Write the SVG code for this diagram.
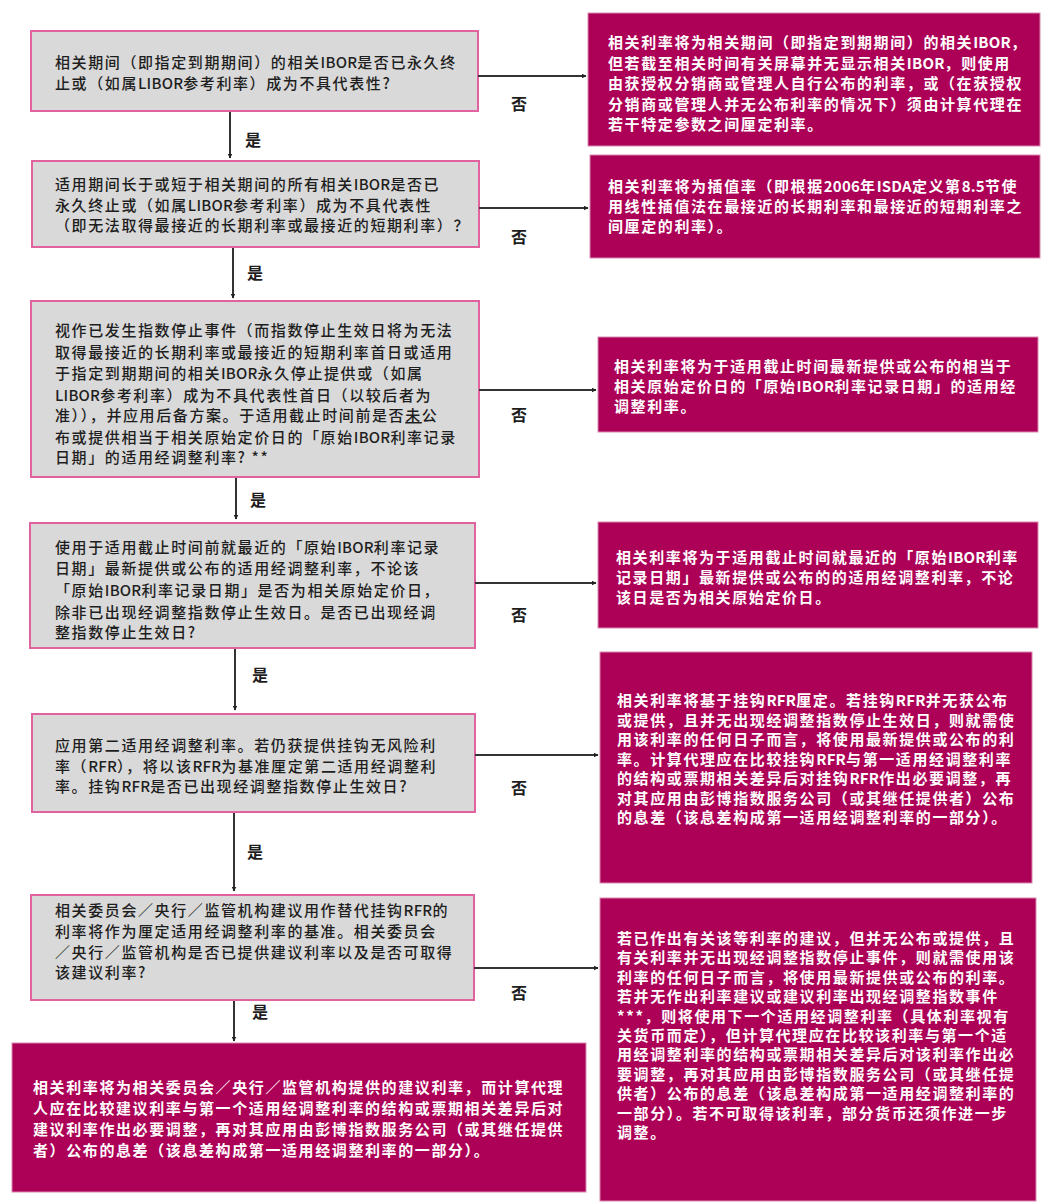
<svg xmlns="http://www.w3.org/2000/svg" width="1062" height="1203" viewBox="0 0 1062 1203">
<defs>
<marker id="ah" viewBox="0 0 10 10" refX="9" refY="5" markerWidth="5" markerHeight="5" orient="auto" markerUnits="userSpaceOnUse">
<path d="M0,0 L10,5 L0,10 z" fill="#222"/>
</marker>
<style>
.q{fill:#d9d9d9;stroke:#e0629f;stroke-width:2}
.r{fill:#ad0057;stroke:#d98ab2;stroke-width:1}
.lt{font-family:"Noto Sans CJK SC","Noto Sans CJK TC",sans-serif;font-size:15px;letter-spacing:1.6px;fill:#1e1e1e;font-weight:500}
.rt{font-family:"Noto Sans CJK SC","Noto Sans CJK TC",sans-serif;font-size:15px;letter-spacing:1.6px;fill:#ffffff;font-weight:700}
.la{letter-spacing:0.2px}
.lb{font-family:"Noto Sans CJK SC","Noto Sans CJK TC",sans-serif;font-size:16px;fill:#1e1e1e;font-weight:700}
.c{stroke:#333;stroke-width:2;fill:none;marker-end:url(#ah)}
</style>
</defs>
<rect width="1062" height="1203" fill="#ffffff"/>

<g id="q1">
<rect class="q" x="31" y="31" width="447" height="80"/>
<text class="lt" x="55" y="68">相关期间（即指定到期期间）的相关<tspan class="la">IBOR</tspan>是否已永久终</text>
<text class="lt" x="55" y="89">止或（如属<tspan class="la">LIBOR</tspan>参考利率）成为不具代表性?</text>
</g>

<g id="q2">
<rect class="q" x="32" y="161" width="447" height="86"/>
<text class="lt" x="55" y="190">适用期间长于或短于相关期间的所有相关<tspan class="la">IBOR</tspan>是否已</text>
<text class="lt" x="55" y="211">永久终止或（如属<tspan class="la">LIBOR</tspan>参考利率）成为不具代表性</text>
<text class="lt" x="55" y="231">（即无法取得最接近的长期利率或最接近的短期利率）？</text>
</g>

<g id="q3">
<rect class="q" x="31" y="301" width="448" height="176"/>
<text class="lt" x="55" y="336">视作已发生指数停止事件（而指数停止生效日将为无法</text>
<text class="lt" x="55" y="358">取得最接近的长期利率或最接近的短期利率首日或适用</text>
<text class="lt" x="55" y="379">于指定到期期间的相关<tspan class="la">IBOR</tspan>永久停止提供或（如属</text>
<text class="lt" x="55" y="401"><tspan class="la">LIBOR</tspan>参考利率）成为不具代表性首日（以较后者为</text>
<text class="lt" x="55" y="421">准）），并应用后备方案。于适用截止时间前是否<tspan text-decoration="underline">未</tspan>公</text>
<text class="lt" x="55" y="443">布或提供相当于相关原始定价日的「原始<tspan class="la">IBOR</tspan>利率记录</text>
<text class="lt" x="55" y="463">日期」的适用经调整利率? **</text>
</g>

<g id="q4">
<rect class="q" x="30" y="523" width="445" height="125"/>
<text class="lt" x="55" y="553">使用于适用截止时间前就最近的「原始<tspan class="la">IBOR</tspan>利率记录</text>
<text class="lt" x="55" y="574">日期」最新提供或公布的适用经调整利率，不论该</text>
<text class="lt" x="55" y="596">「原始<tspan class="la">IBOR</tspan>利率记录日期」是否为相关原始定价日，</text>
<text class="lt" x="55" y="618">除非已出现经调整指数停止生效日。是否已出现经调</text>
<text class="lt" x="55" y="638">整指数停止生效日?</text>
</g>

<g id="q5">
<rect class="q" x="32" y="714" width="443" height="98"/>
<text class="lt" x="55" y="751">应用第二适用经调整利率。若仍获提供挂钩无风险利</text>
<text class="lt" x="55" y="772">率（<tspan class="la">RFR</tspan>），将以该<tspan class="la">RFR</tspan>为基准厘定第二适用经调整利</text>
<text class="lt" x="55" y="792">率。挂钩<tspan class="la">RFR</tspan>是否已出现经调整指数停止生效日?</text>
</g>

<g id="q6">
<rect class="q" x="31" y="895" width="443" height="105"/>
<text class="lt" x="55" y="916">相关委员会／央行／监管机构建议用作替代挂钩<tspan class="la">RFR</tspan>的</text>
<text class="lt" x="55" y="937">利率将作为厘定适用经调整利率的基准。相关委员会</text>
<text class="lt" x="55" y="958">／央行／监管机构是否已提供建议利率以及是否可取得</text>
<text class="lt" x="55" y="978">该建议利率?</text>
</g>

<g id="a7">
<rect class="r" x="12" y="1043" width="574" height="149"/>
<text class="rt" x="33" y="1093">相关利率将为相关委员会／央行／监管机构提供的建议利率，而计算代理</text>
<text class="rt" x="33" y="1114">人应在比较建议利率与第一个适用经调整利率的结构或票期相关差异后对</text>
<text class="rt" x="33" y="1135">建议利率作出必要调整，再对其应用由彭博指数服务公司（或其继任提供</text>
<text class="rt" x="33" y="1156">者）公布的息差（该息差构成第一适用经调整利率的一部分）。</text>
</g>

<g id="a1">
<rect class="r" x="588" y="13" width="452" height="133"/>
<text class="rt" x="608" y="48">相关利率将为相关期间（即指定到期期间）的相关<tspan class="la">IBOR</tspan>，</text>
<text class="rt" x="608" y="69">但若截至相关时间有关屏幕并无显示相关<tspan class="la">IBOR</tspan>，则使用</text>
<text class="rt" x="608" y="89">由获授权分销商或管理人自行公布的利率，或（在获授权</text>
<text class="rt" x="608" y="110">分销商或管理人并无公布利率的情况下）须由计算代理在</text>
<text class="rt" x="608" y="130">若干特定参数之间厘定利率。</text>
</g>

<g id="a2">
<rect class="r" x="590" y="155" width="450" height="103"/>
<text class="rt" x="608" y="192">相关利率将为插值率（即根据<tspan class="la">2006</tspan>年<tspan class="la">ISDA</tspan>定义第<tspan class="la">8.5</tspan>节使</text>
<text class="rt" x="608" y="212">用线性插值法在最接近的长期利率和最接近的短期利率之</text>
<text class="rt" x="608" y="232">间厘定的利率）。</text>
</g>

<g id="a3">
<rect class="r" x="598" y="337" width="440" height="95"/>
<text class="rt" x="614" y="372">相关利率将为于适用截止时间最新提供或公布的相当于</text>
<text class="rt" x="614" y="392">相关原始定价日的「原始<tspan class="la">IBOR</tspan>利率记录日期」的适用经</text>
<text class="rt" x="614" y="412">调整利率。</text>
</g>

<g id="a4">
<rect class="r" x="598" y="522" width="440" height="106"/>
<text class="rt" x="616" y="563">相关利率将为于适用截止时间就最近的「原始<tspan class="la">IBOR</tspan>利率</text>
<text class="rt" x="616" y="583">记录日期」最新提供或公布的的适用经调整利率，不论</text>
<text class="rt" x="616" y="603">该日是否为相关原始定价日。</text>
</g>

<g id="a5">
<rect class="r" x="600" y="652" width="432" height="231"/>
<text class="rt" x="617" y="706">相关利率将基于挂钩<tspan class="la">RFR</tspan>厘定。若挂钩<tspan class="la">RFR</tspan>并无获公布</text>
<text class="rt" x="617" y="726">或提供，且并无出现经调整指数停止生效日，则就需使</text>
<text class="rt" x="617" y="745">用该利率的任何日子而言，将使用最新提供或公布的利</text>
<text class="rt" x="617" y="765">率。计算代理应在比较挂钩<tspan class="la">RFR</tspan>与第一适用经调整利率</text>
<text class="rt" x="617" y="784">的结构或票期相关差异后对挂钩<tspan class="la">RFR</tspan>作出必要调整，再</text>
<text class="rt" x="617" y="804">对其应用由彭博指数服务公司（或其继任提供者）公布</text>
<text class="rt" x="617" y="823">的息差（该息差构成第一适用经调整利率的一部分）。</text>
</g>

<g id="a6">
<rect class="r" x="600" y="898" width="436" height="303"/>
<text class="rt" x="617" y="944">若已作出有关该等利率的建议，但并无公布或提供，且</text>
<text class="rt" x="617" y="963">有关利率并无出现经调整指数停止事件，则就需使用该</text>
<text class="rt" x="617" y="983">利率的任何日子而言，将使用最新提供或公布的利率。</text>
<text class="rt" x="617" y="1002">若并无作出利率建议或建议利率出现经调整指数事件</text>
<text class="rt" x="617" y="1022">***，则将使用下一个适用经调整利率（具体利率视有</text>
<text class="rt" x="617" y="1041">关货币而定），但计算代理应在比较该利率与第一个适</text>
<text class="rt" x="617" y="1060">用经调整利率的结构或票期相关差异后对该利率作出必</text>
<text class="rt" x="617" y="1080">要调整，再对其应用由彭博指数服务公司（或其继任提</text>
<text class="rt" x="617" y="1099">供者）公布的息差（该息差构成第一适用经调整利率的</text>
<text class="rt" x="617" y="1119">一部分）。若不可取得该利率，部分货币还须作进一步</text>
<text class="rt" x="617" y="1138">调整。</text>
</g>

<g id="connectors">
<line class="c" x1="230" y1="112" x2="230" y2="158"/>
<line class="c" x1="233" y1="248" x2="233" y2="298"/>
<line class="c" x1="236" y1="478" x2="236" y2="519"/>
<line class="c" x1="235" y1="649" x2="235" y2="710"/>
<line class="c" x1="234" y1="813" x2="234" y2="891"/>
<line class="c" x1="234" y1="1001" x2="234" y2="1041"/>
<line class="c" x1="478" y1="76" x2="586" y2="76"/>
<line class="c" x1="479" y1="208" x2="588" y2="208"/>
<line class="c" x1="479" y1="390" x2="596" y2="390"/>
<line class="c" x1="475" y1="583" x2="596" y2="583"/>
<line class="c" x1="475" y1="755" x2="598" y2="755"/>
<line class="c" x1="474" y1="968" x2="598" y2="968"/>
<text class="lb" x="245" y="146">是</text>
<text class="lb" x="247" y="279">是</text>
<text class="lb" x="250" y="506">是</text>
<text class="lb" x="252" y="681">是</text>
<text class="lb" x="247" y="858">是</text>
<text class="lb" x="252" y="1018">是</text>
<text class="lb" x="511" y="110">否</text>
<text class="lb" x="511" y="243">否</text>
<text class="lb" x="511" y="421">否</text>
<text class="lb" x="511" y="621">否</text>
<text class="lb" x="511" y="794">否</text>
<text class="lb" x="511" y="999">否</text>
</g>
</svg>
